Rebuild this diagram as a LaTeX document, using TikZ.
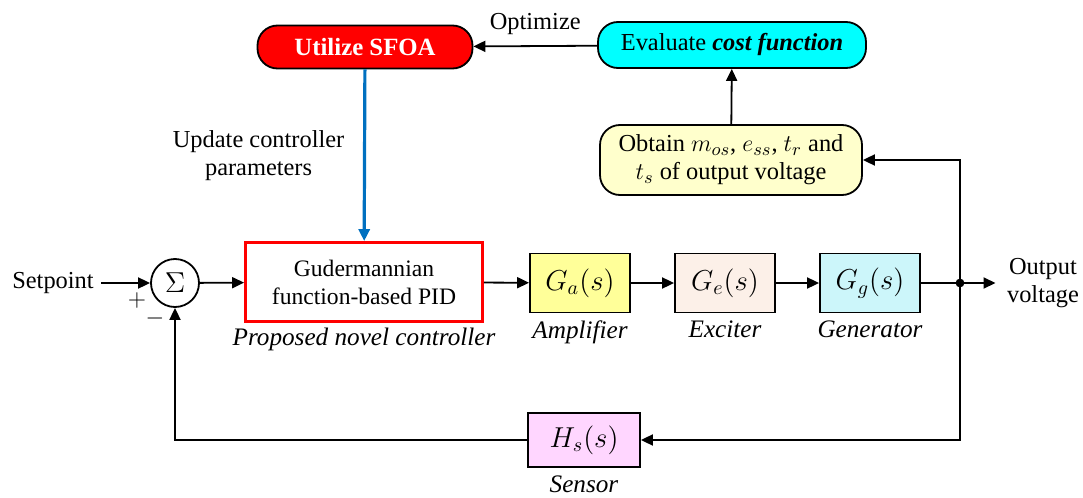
\documentclass[tikz,border=0pt]{standalone}
\usepackage{amsmath}
\usepackage{fontspec}
\setmainfont{LiberationSerif}[Extension=.ttf,UprightFont=*-Regular,BoldFont=*-Bold,ItalicFont=*-Italic,BoldItalicFont=*-BoldItalic]
\usepackage{tikz}
\usetikzlibrary{arrows.meta,shapes,positioning}
\usetikzlibrary{calc}

\definecolor{sfoared}{RGB}{255,0,0}
\definecolor{evalcyan}{RGB}{0,255,255}
\definecolor{obtainyel}{RGB}{255,255,204}
\definecolor{ampyel}{RGB}{255,255,153}
\definecolor{excpeach}{RGB}{252,240,232}
\definecolor{gencyan}{RGB}{204,246,250}
\definecolor{senspink}{RGB}{255,214,255}
\definecolor{updblue}{RGB}{0,112,192}

\begin{document}
\begin{tikzpicture}[x=0.5pt,y=-0.5pt,line width=0.9pt,>={Triangle[length=6pt,width=5.5pt]},
	font=\fontsize{12.2}{14}\selectfont,
	pill/.style={draw,rounded corners=10pt,align=center,inner sep=2pt},
	blockbox/.style={draw,minimum width=50pt,minimum height=29.5pt,inner sep=1pt,font=\fontsize{14}{16}\selectfont},
	caption/.style={font=\fontsize{12.6}{14}\selectfont\itshape}]
	\useasboundingbox (0,0) rectangle (1083,498);
	% optimisation loop
	\node[pill,fill=sfoared,text=white,minimum width=107.5pt,minimum height=21.5pt,font=\fontsize{12.4}{14}\selectfont\bfseries]	(sfoa)	at (365,47) {Utilize SFOA};
	\node[pill,fill=evalcyan,minimum width=134pt,minimum height=23pt]	(eval)	at (732,45) {Evaluate \textbf{\textit{cost function}}};
	\node[pill,fill=obtainyel,minimum width=131pt,minimum height=35pt,inner sep=1pt]	(obt)	at (731,160) {Obtain $m_{os}$, $e_{ss}$, $t_r$ and\\$t_s$ of output voltage};
	% main loop
	\node[]	(setp)	at (53,283) {Setpoint};
	\node[circle,draw,minimum size=24pt,inner sep=0pt,font=\fontsize{14}{16}\selectfont]	(sum)	at (175,283) {$\Sigma$};
	\node[draw=red,line width=1.4pt,minimum width=118.5pt,minimum height=39.5pt,align=center,font=\fontsize{11.8}{14}\selectfont]	(pid)	at (364,282) {Gudermannian\\function-based PID};
	\node[blockbox,fill=ampyel]	(amp)	at (580,283) {$G_a(s)$};
	\node[blockbox,fill=excpeach]	(exc)	at (725,283) {$G_e(s)$};
	\node[blockbox,fill=gencyan]	(gen)	at (870,283) {$G_g(s)$};
	\node[blockbox,fill=senspink,minimum width=56pt,minimum height=27pt]	(sens)	at (584,440) {$H_s(s)$};
	\node[align=center]	(out)	at (1043,283) {Output\\voltage};
	\coordinate (junc) at (960,283);
	% captions
	\node[caption]	(capid)	[below=-1pt of pid] {Proposed novel controller};
	\node[caption]	(capamp)	[below=0pt of amp] {Amplifier};
	\node[caption]	(capexc)	[below=0pt of exc] {Exciter};
	\node[caption]	(capgen)	[below=0pt of gen] {Generator};
	\node[caption]	(capsens)	[below=0pt of sens] {Sensor};
	\node[]	(plus)	at (137,300) {$+$};
	\node[]	(minus)	at (155,318) {$-$};
	\path[->]
			(eval) edge node[above=2pt] {Optimize} (sfoa)
			(obt) edge (eval)
			(setp) edge (sum)
			(sum) edge (pid)
			(pid) edge (amp)
			(amp) edge (exc)
			(exc) edge (gen)
			;
	\draw[->] (gen) -- (junc) -- ($(out.west)+(-4,0)$);
	\fill (junc) circle (2.2pt);
	\draw[->] (junc) |- (obt.east);
	\draw[->] (junc) |- (sens.east);
	\draw[->] (sens.west) -| (sum.south);
	\draw[->,updblue,line width=1.6pt] (sfoa) -- node[left=6pt,black,align=center] {Update controller\\parameters} (pid);
\end{tikzpicture}
\end{document}
